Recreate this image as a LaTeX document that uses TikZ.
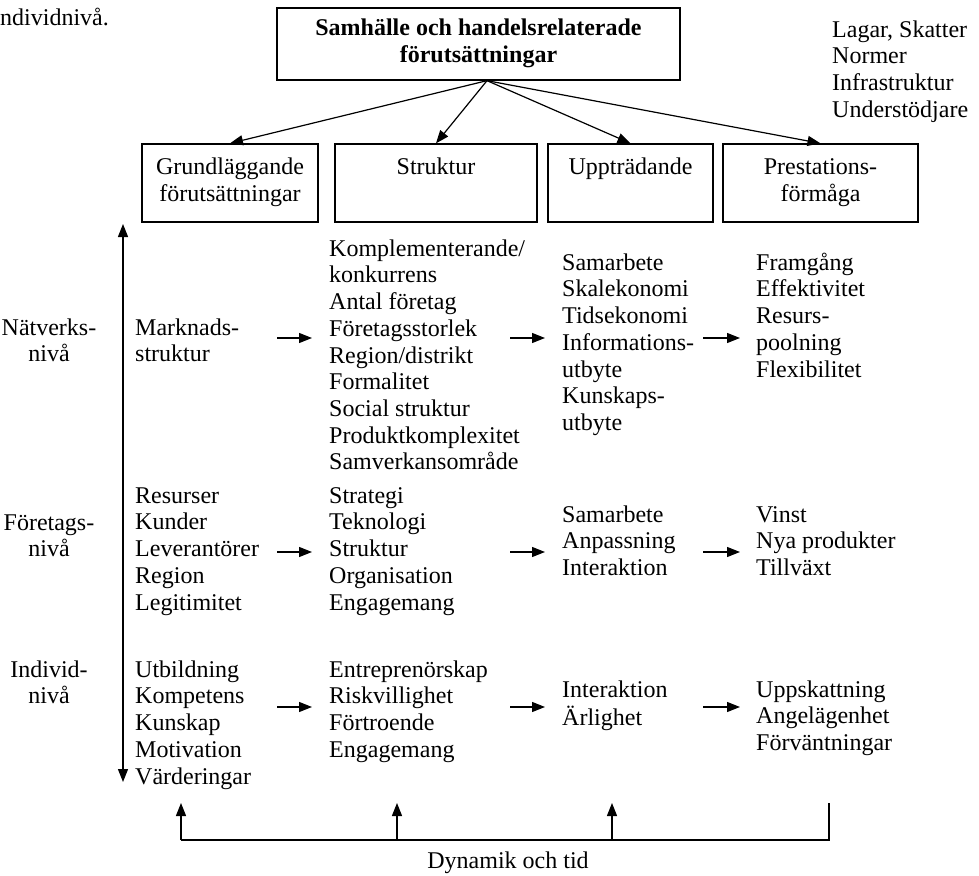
\documentclass[tikz,border=0pt]{standalone}
\usepackage{fontspec}
\setmainfont{Liberation Serif}
\usetikzlibrary{arrows.meta}

\begin{document}
\begin{tikzpicture}[x=1pt,y=-1pt,
  every node/.style={font=\fontsize{24}{26.7}\selectfont, inner sep=0pt},
  line/.style={line width=1.2pt},
  arr/.style={line width=1.2pt, -{Triangle[length=13pt,width=10pt]}},
  dblarr/.style={line width=1.2pt, {Triangle[length=13pt,width=10pt]}-{Triangle[length=13pt,width=10pt]}},
  txt/.style={anchor=north west, align=left, yshift=18.69pt},
  ctxt/.style={anchor=north, align=center, yshift=18.69pt},
  colbox/.style={draw, line width=1.3pt, align=center, minimum height=78pt},
  topbox/.style={draw, line width=1.3pt, align=center, minimum height=72pt,
    minimum width=403pt, font=\fontsize{24}{26.7}\selectfont\bfseries}
]
\useasboundingbox (0,0) rectangle (979,875);

% caption fragment in the upper left corner
\node[txt] (capfrag) at (0,25) {\strut ndividnivå.};

% society level box and the four dimension boxes
\node[topbox] (top) at (478.5,44) {\strut Samhälle och handelsrelaterade\\förutsättningar\strut};
\node[txt] (society) at (832,37) {\strut Lagar, Skatter\\Normer\\Infrastruktur\\Understödjare};

\node[colbox, minimum width=176pt] (grund)  at (230,183)   {\strut Grundläggande\\förutsättningar\strut};
\node[colbox, minimum width=202pt] (strukt) at (436,183)   {\strut Struktur\\\strut};
\node[colbox, minimum width=165pt] (uppt)   at (630.5,183) {\strut Uppträdande\\\strut};
\node[colbox, minimum width=195pt] (prest)  at (820.5,183) {\strut Prestations-\\förmåga\strut};

\coordinate (hub) at ([xshift=8.5pt]top.south);
\foreach \b in {grund,strukt,uppt,prest}
  \draw[arr] (hub) -- (\b.north);

% level labels and the vertical level axis
\node[ctxt] (lvnet)  at (49,335) {\strut Nätverks-\\nivå};
\node[ctxt] (lvfirm) at (49,530) {\strut Företags-\\nivå};
\node[ctxt] (lvind)  at (49,677) {\strut Individ-\\nivå};

\coordinate (axtop) at (123,224);
\coordinate (axbot) at (123,782);
\draw[dblarr] (axbot) -- (axtop);

% network level
\node[txt] (n1) at (135,335) {\strut Marknads-\\struktur};
\node[txt] (n2) at (329,256) {\strut Komplementerande/\\konkurrens\\Antal företag\\Företagsstorlek\\Region/distrikt\\Formalitet\\Social struktur\\Produktkomplexitet\\Samverkansområde};
\node[txt] (n3) at (562,270) {\strut Samarbete\\Skalekonomi\\Tidsekonomi\\Informations-\\utbyte\\Kunskaps-\\utbyte};
\node[txt] (n4) at (756,270) {\strut Framgång\\Effektivitet\\Resurs-\\poolning\\Flexibilitet};

% firm level
\node[txt] (f1) at (135,503) {\strut Resurser\\Kunder\\Leverantörer\\Region\\Legitimitet};
\node[txt] (f2) at (329,503) {\strut Strategi\\Teknologi\\Struktur\\Organisation\\Engagemang};
\node[txt] (f3) at (562,522) {\strut Samarbete\\Anpassning\\Interaktion};
\node[txt] (f4) at (756,522) {\strut Vinst\\Nya produkter\\Tillväxt};

% individual level
\node[txt] (i1) at (135,677) {\strut Utbildning\\Kompetens\\Kunskap\\Motivation\\Värderingar};
\node[txt] (i2) at (329,677) {\strut Entreprenörskap\\Riskvillighet\\Förtroende\\Engagemang};
\node[txt] (i3) at (562,697) {\strut Interaktion\\Ärlighet};
\node[txt] (i4) at (756,697) {\strut Uppskattning\\Angelägenhet\\Förväntningar};

% short arrows between the columns
\foreach \y/\r in {338/n, 552/f, 707/i}{
  \coordinate (\r a1) at (277,\y); \coordinate (\r b1) at (312,\y);
  \coordinate (\r a2) at (510,\y); \coordinate (\r b2) at (545,\y);
  \coordinate (\r a3) at (703,\y); \coordinate (\r b3) at (740,\y);
  \draw[arr] (\r a1) -- (\r b1);
  \draw[arr] (\r a2) -- (\r b2);
  \draw[arr] (\r a3) -- (\r b3);
}

% feedback line: dynamics and time
\coordinate (fb0) at (181,840); \coordinate (up0) at (181,803);
\coordinate (fb1) at (397,840); \coordinate (up1) at (397,803);
\coordinate (fb2) at (612,840); \coordinate (up2) at (612,803);
\coordinate (fb3) at (829,840); \coordinate (up3) at (829,803);
\draw[line] (up3) -- (fb3) -- (fb0);
\draw[arr] (fb0) -- (up0);
\draw[arr] (fb1) -- (up1);
\draw[arr] (fb2) -- (up2);
\node[ctxt] (dyn) at (508,868) {\strut Dynamik och tid};
\end{tikzpicture}
\end{document}
